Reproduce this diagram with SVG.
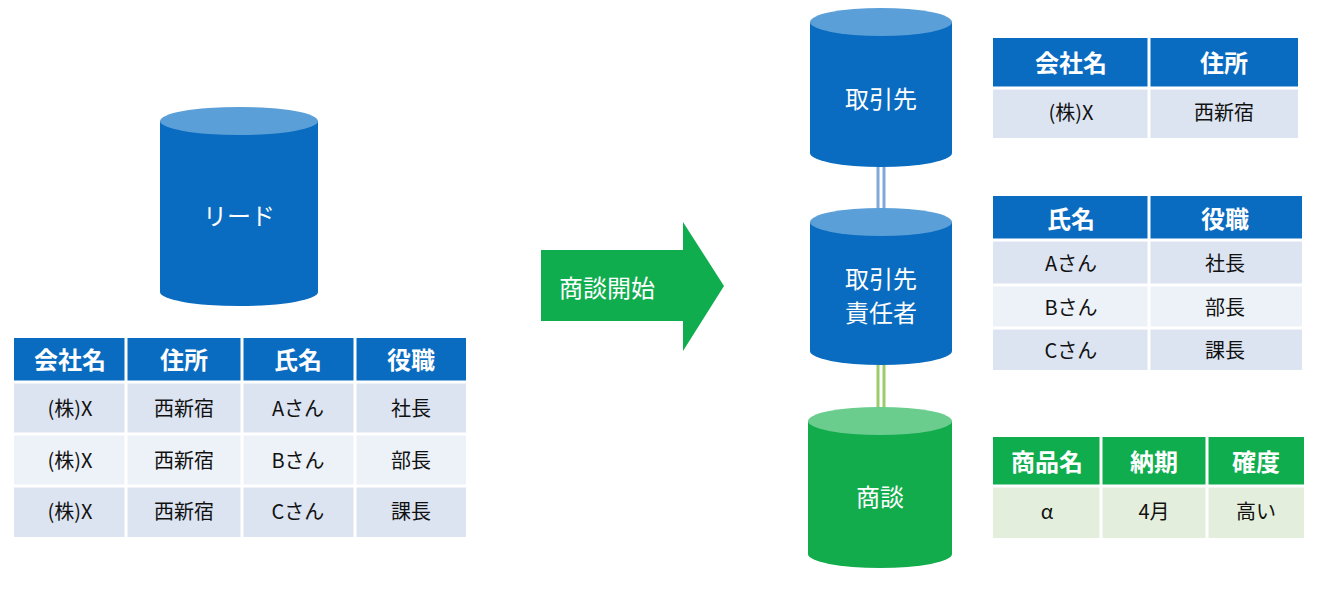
<svg xmlns="http://www.w3.org/2000/svg" width="1318" height="591" viewBox="0 0 1318 591">
<style>
.b{fill:#0a6cc0}.bt{fill:#5a9fd8}.g{fill:#13ac4c}.gt{fill:#6acd8e}
.hb{fill:#0a6cc0}.hg{fill:#10ad4f}.r1{fill:#dce4f1}.r2{fill:#edf1f8}.rg{fill:#e3efdc}
.sep{stroke:#fff;stroke-width:3}
text{font-family:"Noto Sans CJK JP","Noto Sans",sans-serif;text-anchor:middle;dominant-baseline:central}
.h{fill:#fff;font-size:24px;font-weight:bold}.c{fill:#111;font-size:20px}.w{fill:#fff;font-size:24px}
</style>
<rect width="1318" height="591" fill="#fff"/>
<g id="connectors">
<line x1="878" y1="165" x2="878" y2="210" stroke="#7fa9d8" stroke-width="3"/>
<line x1="884" y1="165" x2="884" y2="210" stroke="#7fa9d8" stroke-width="3"/>
<line x1="878" y1="363" x2="878" y2="409" stroke="#9ccc6a" stroke-width="3"/>
<line x1="884" y1="363" x2="884" y2="409" stroke="#9ccc6a" stroke-width="3"/>
</g>
<g id="lead">
<path class="b" d="M160 121 V292 A79 14 0 0 0 318 292 V121 Z"/>
<ellipse class="bt" cx="239" cy="121" rx="79" ry="14"/>
<text class="w" x="239" y="214">リード</text>
</g>
<g id="torihikisaki">
<path class="b" d="M810 22 V153 A71 14 0 0 0 952 153 V22 Z"/>
<ellipse class="bt" cx="881" cy="22" rx="71" ry="14"/>
<text class="w" x="881" y="97">取引先</text>
</g>
<g id="sekininsha">
<path class="b" d="M810 222 V351 A71 14 0 0 0 952 351 V222 Z"/>
<ellipse class="bt" cx="881" cy="222" rx="71" ry="14"/>
<text class="w" x="881" y="277">取引先</text>
<text class="w" x="881" y="311">責任者</text>
</g>
<g id="shodan">
<path class="g" d="M808 421 V554 A72 14 0 0 0 952 554 V421 Z"/>
<ellipse class="gt" cx="880" cy="421" rx="72" ry="14"/>
<text class="w" x="880" y="495">商談</text>
</g>
<g id="arrow">
<polygon fill="#10ad4f" points="541,250 683,250 683,222 724,286 683,351 683,321 541,321"/>
<text class="w" x="607" y="286">商談開始</text>
</g>
<g id="leadTable">
<rect class="hb" x="14" y="338" width="452" height="44"/>
<rect class="r1" x="14" y="382" width="452" height="52"/>
<rect class="r2" x="14" y="434" width="452" height="52"/>
<rect class="r1" x="14" y="486" width="452" height="51"/>
<g class="sep"><line x1="126" y1="338" x2="126" y2="537"/><line x1="242" y1="338" x2="242" y2="537"/><line x1="355" y1="338" x2="355" y2="537"/>
<line x1="14" y1="382" x2="466" y2="382"/><line x1="14" y1="434" x2="466" y2="434"/><line x1="14" y1="486" x2="466" y2="486"/></g>
<text class="h" x="70" y="358">会社名</text><text class="h" x="184" y="358">住所</text><text class="h" x="298" y="358">氏名</text><text class="h" x="411" y="358">役職</text>
<text class="c" x="70" y="407">(株)X</text><text class="c" x="184" y="407">西新宿</text><text class="c" x="298" y="407">Aさん</text><text class="c" x="411" y="407">社長</text>
<text class="c" x="70" y="459">(株)X</text><text class="c" x="184" y="459">西新宿</text><text class="c" x="298" y="459">Bさん</text><text class="c" x="411" y="459">部長</text>
<text class="c" x="70" y="510">(株)X</text><text class="c" x="184" y="510">西新宿</text><text class="c" x="298" y="510">Cさん</text><text class="c" x="411" y="510">課長</text>
</g>
<g id="table1">
<rect class="hb" x="993" y="38" width="305" height="50"/>
<rect class="r1" x="993" y="88" width="305" height="50"/>
<g class="sep"><line x1="1149" y1="38" x2="1149" y2="138"/><line x1="993" y1="88" x2="1298" y2="88"/></g>
<text class="h" x="1071" y="61">会社名</text><text class="h" x="1224" y="61">住所</text>
<text class="c" x="1071" y="111">(株)X</text><text class="c" x="1224" y="111">西新宿</text>
</g>
<g id="table2">
<rect class="hb" x="993" y="196" width="309" height="44"/>
<rect class="r1" x="993" y="240" width="309" height="45"/>
<rect class="r2" x="993" y="285" width="309" height="43"/>
<rect class="r1" x="993" y="328" width="309" height="42"/>
<g class="sep"><line x1="1149" y1="196" x2="1149" y2="370"/><line x1="993" y1="240" x2="1302" y2="240"/><line x1="993" y1="285" x2="1302" y2="285"/><line x1="993" y1="328" x2="1302" y2="328"/></g>
<text class="h" x="1071" y="217">氏名</text><text class="h" x="1225" y="217">役職</text>
<text class="c" x="1071" y="262">Aさん</text><text class="c" x="1225" y="262">社長</text>
<text class="c" x="1071" y="306">Bさん</text><text class="c" x="1225" y="306">部長</text>
<text class="c" x="1071" y="349">Cさん</text><text class="c" x="1225" y="349">課長</text>
</g>
<g id="table3">
<rect class="hg" x="993" y="437" width="311" height="49"/>
<rect class="rg" x="993" y="486" width="311" height="52"/>
<g class="sep"><line x1="1101" y1="437" x2="1101" y2="538"/><line x1="1207" y1="437" x2="1207" y2="538"/><line x1="993" y1="486" x2="1304" y2="486"/></g>
<text class="h" x="1047" y="460">商品名</text><text class="h" x="1154" y="460">納期</text><text class="h" x="1256" y="460">確度</text>
<text class="c" x="1047" y="510">α</text><text class="c" x="1154" y="510">4月</text><text class="c" x="1256" y="510">高い</text>
</g>
</svg>
